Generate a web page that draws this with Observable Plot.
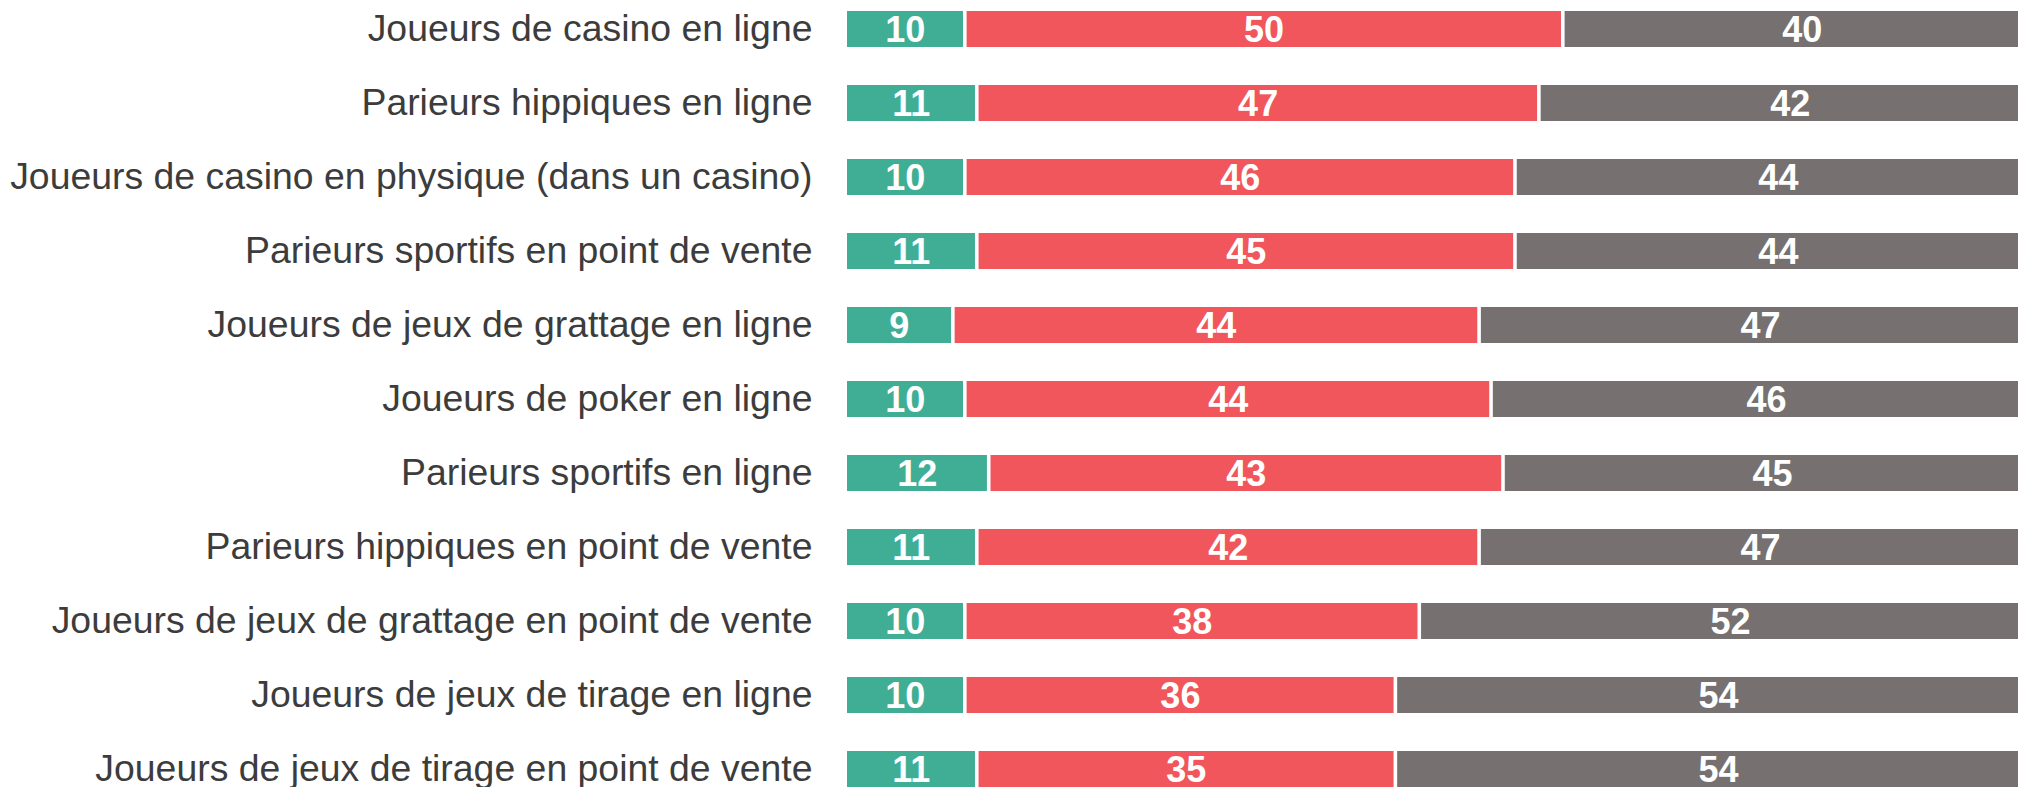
<!DOCTYPE html>
<html>
<head>
<meta charset="utf-8">
<script src="https://cdn.jsdelivr.net/npm/d3@7"></script>
<script src="https://cdn.jsdelivr.net/npm/@observablehq/plot@0.6"></script>
<style>
  html, body { margin: 0; padding: 0; background: #fff; overflow: hidden; }
</style>
</head>
<body>
<div id="chart"></div>
<script>
const categories = [
  "Joueurs de casino en ligne",
  "Parieurs hippiques en ligne",
  "Joueurs de casino en physique (dans un casino)",
  "Parieurs sportifs en point de vente",
  "Joueurs de jeux de grattage en ligne",
  "Joueurs de poker en ligne",
  "Parieurs sportifs en ligne",
  "Parieurs hippiques en point de vente",
  "Joueurs de jeux de grattage en point de vente",
  "Joueurs de jeux de tirage en ligne",
  "Joueurs de jeux de tirage en point de vente"
];
const seriesNames = ["Série 1", "Série 2", "Série 3"];
const greenValues = [10, 11, 10, 11, 9, 10, 12, 11, 10, 10, 11];
const redValues   = [50, 47, 46, 45, 44, 44, 43, 42, 38, 36, 35];
const grayValues  = [40, 42, 44, 44, 47, 46, 45, 47, 52, 54, 54];
const seriesColors = ["#3FAE94", "#F0565B", "#767170"];

const seriesValues = [greenValues, redValues, grayValues];
const data = [];
categories.forEach((cat, i) => {
  seriesNames.forEach((s, j) => {
    data.push({cat, series: s, value: seriesValues[j][i]});
  });
});

const chart = Plot.plot({
  width: 2018,
  height: 787,
  marginLeft: 847,
  marginRight: -25,
  marginTop: 10,
  marginBottom: 0,
  style: {fontFamily: "'Liberation Sans', Arial, sans-serif", overflow: "hidden", background: "#fff"},
  x: {domain: [0, 100], axis: null},
  y: {domain: categories, paddingInner: 0.515, paddingOuter: 0, label: null},
  color: {domain: seriesNames, range: seriesColors},
  marks: [
    Plot.barX(data, Plot.stackX({
      x: "value", y: "cat", z: "series", fill: "series", insetRight: 3.6
    })),
    Plot.text(data, Plot.stackX({
      x: "value", y: "cat", z: "series", text: "value",
      fill: "white", fontWeight: "bold", fontSize: 36, dy: 1, dx: -2
    })),
    Plot.axisY({
      tickSize: 0, tickPadding: 35, fontSize: 37.4, color: "#3c3c3c", label: null
    })
  ]
});
document.getElementById("chart").appendChild(chart);
</script>
</body>
</html>
